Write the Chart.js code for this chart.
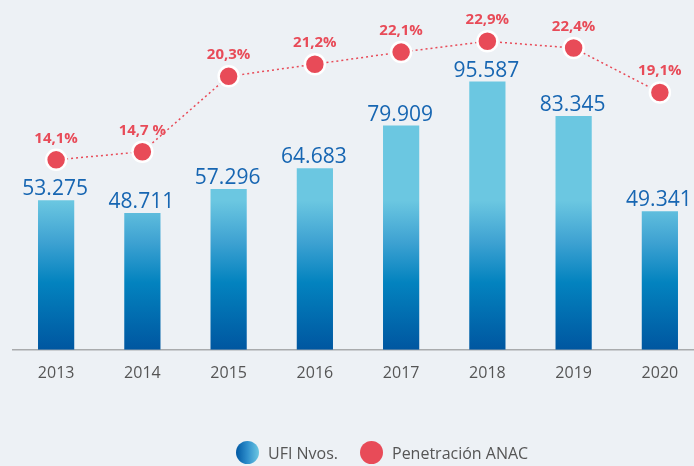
<!DOCTYPE html>
<html>
<head>
<meta charset="utf-8">
<script src="https://cdn.jsdelivr.net/npm/chart.js@4"></script>
<style>
    html, body { margin: 0; padding: 0; background: #edf1f5; overflow: hidden; }
    body { width: 694px; height: 466px; position: relative; font-family: 'Open Sans', sans-serif; }
    canvas { position: absolute; left: 0; top: 0; }
    .legend-item { position: absolute; top: 441px; height: 24px; line-height: 24px; font-size: 16px; color: #555; white-space: nowrap; }
    .dot { position: absolute; left: 0; top: 0; width: 23px; height: 23px; border-radius: 50%; }
    .legend-item span { position: absolute; left: 32px; top: 0; }
</style>
</head>
<body>
<canvas id="chart" width="703" height="466"></canvas>
<div class="legend-item" style="left:236px; width:110px;">
    <div class="dot" style="background: linear-gradient(to right, #0058a3, #2f8fcc 50%, #6cc7e2);"></div>
    <span>UFI Nvos.</span>
</div>
<div class="legend-item" style="left:360px; width:180px;">
    <div class="dot" style="background: #e84b58;"></div>
    <span>Penetración ANAC</span>
</div>
<script>
const years = ['2013', '2014', '2015', '2016', '2017', '2018', '2019', '2020'];
const ufiValues = [53275, 48711, 57296, 64683, 79909, 95587, 83345, 49341];
const ufiLabels = ['53.275', '48.711', '57.296', '64.683', '79.909', '95.587', '83.345', '49.341'];
const penetracion = [14.1, 14.7, 20.3, 21.2, 22.1, 22.9, 22.4, 19.1];
const penetracionLabels = ['14,1%', '14,7 %', '20,3%', '21,2%', '22,1%', '22,9%', '22,4%', '19,1%'];

Chart.defaults.font.family = "'Open Sans', sans-serif";

function barGradient(context) {
    const chart = context.chart;
    const area = chart.chartArea;
    if (!area) return '#3ea3d2';
    const g = chart.ctx.createLinearGradient(0, area.top, 0, area.bottom);
    g.addColorStop(0, '#6bc7e1');
    g.addColorStop(0.557, '#6bc7e1');
    g.addColorStop(0.68, '#3ea2d2');
    g.addColorStop(0.80, '#0383bf');
    g.addColorStop(1, '#0056a0');
    return g;
}

// draws the value labels above bars and points
const valueLabels = {
    id: 'valueLabels',
    afterDatasetsDraw(chart) {
        const ctx = chart.ctx;
        ctx.save();
        ctx.textAlign = 'center';
        ctx.textBaseline = 'alphabetic';

        const bars = chart.getDatasetMeta(1).data;
        ctx.font = "21px 'Open Sans', sans-serif";
        ctx.fillStyle = '#1766b2';
        bars.forEach((bar, i) => {
            ctx.fillText(ufiLabels[i], bar.x - 1, bar.y - 5);
        });

        const points = chart.getDatasetMeta(0).data;
        ctx.font = "bold 15px 'Open Sans', sans-serif";
        ctx.fillStyle = '#e84b58';
        points.forEach((pt, i) => {
            ctx.fillText(penetracionLabels[i], pt.x, pt.y - 17);
        });
        ctx.restore();
    }
};

const ctx = document.getElementById('chart').getContext('2d');
window.ufiChart = new Chart(ctx, {
    data: {
        labels: years,
        datasets: [
            {
                type: 'line',
                label: 'Penetración ANAC',
                data: penetracion,
                yAxisID: 'y1',
                borderColor: '#e84b58',
                borderWidth: 1.5,
                borderDash: [2, 3],
                pointRadius: 10,
                pointBackgroundColor: '#e84b58',
                pointBorderColor: '#ffffff',
                pointBorderWidth: 2.5,
                fill: false,
                tension: 0,
                clip: false,
                order: 0
            },
            {
                type: 'bar',
                label: 'UFI Nvos.',
                data: ufiValues,
                yAxisID: 'y',
                backgroundColor: barGradient,
                categoryPercentage: 1,
                barPercentage: 0.42,
                order: 1
            }
        ]
    },
    options: {
        responsive: false,
        animation: false,
        layout: {
            autoPadding: false,
            padding: { top: 13, left: 13, right: 0, bottom: 69 }
        },
        plugins: {
            legend: { display: false },
            tooltip: { enabled: false }
        },
        scales: {
            x: {
                offset: true,
                grid: { display: false, drawTicks: false },
                border: { display: true, color: '#a9abad', width: 1.5 },
                ticks: {
                    color: '#555555',
                    font: { size: 16 },
                    padding: 14
                }
            },
            y: {
                display: false,
                min: 0,
                max: 120000
            },
            y1: {
                display: false,
                min: 0,
                max: 25
            }
        }
    },
    plugins: [valueLabels]
});
</script>
</body>
</html>
